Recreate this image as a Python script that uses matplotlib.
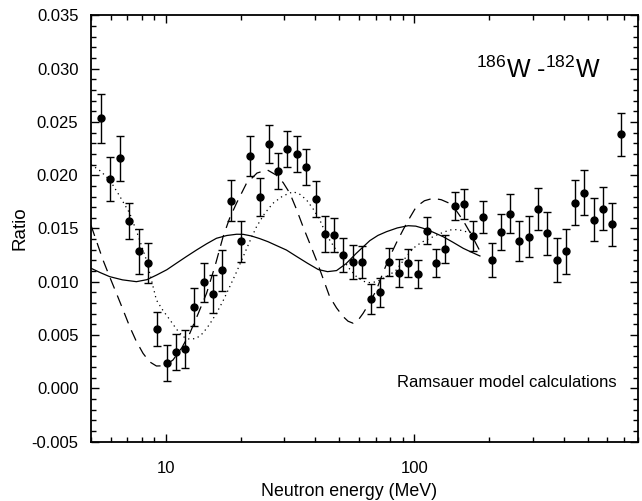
import numpy as np
import matplotlib.pyplot as plt
from matplotlib.ticker import MultipleLocator, LogLocator, NullFormatter

plt.rcParams['font.family'] = ['Liberation Sans', 'DejaVu Sans']
plt.rcParams['mathtext.fontset'] = 'custom'
plt.rcParams['mathtext.rm'] = 'Liberation Sans'

# measured ratio 186W/182W difference
energy = [5.51, 5.98, 6.53, 7.12, 7.78, 8.46, 9.26, 10.09, 11.0, 11.96,
          13.05, 14.22, 15.5, 16.92, 18.39, 20.05, 21.86, 23.9, 26.0, 28.3,
          30.9, 33.7, 36.6, 40.1, 43.6, 47.4, 51.6, 56.5, 61.5, 67.1,
          73.2, 79.3, 86.8, 94.3, 103.2, 112.2, 122.4, 133.5, 145.6, 158.3,
          173.1, 188.9, 205.3, 223.4, 242.9, 264.8, 288.7, 314.8, 343.2, 374.5,
          407.0, 444.7, 483.6, 527.6, 575.4, 627.6, 682.0]
ratio = [0.02534, 0.01964, 0.02159, 0.01567, 0.01286, 0.01174, 0.00557, 0.00235, 0.00344, 0.00372,
         0.00766, 0.00995, 0.00886, 0.01108, 0.01761, 0.01380, 0.02180, 0.01795, 0.02290, 0.02040,
         0.02249, 0.02196, 0.02077, 0.01780, 0.01448, 0.01439, 0.01251, 0.01189, 0.01189, 0.00836,
         0.00900, 0.01186, 0.01080, 0.01179, 0.01070, 0.01480, 0.01174, 0.01305, 0.01714, 0.01733,
         0.01427, 0.01605, 0.01207, 0.01470, 0.01639, 0.01383, 0.01423, 0.01683, 0.01455, 0.01205,
         0.01286, 0.01742, 0.01836, 0.01583, 0.01686, 0.01539, 0.02384]
ratio_err = [0.0023, 0.0021, 0.0021, 0.0017, 0.0021, 0.0019, 0.0016, 0.0017, 0.0017, 0.0018,
             0.0018, 0.0018, 0.0018, 0.0019, 0.0019, 0.0019, 0.0019, 0.0018, 0.0018, 0.0017,
             0.0017, 0.0017, 0.0017, 0.0017, 0.0017, 0.0016, 0.0016, 0.0016, 0.0015, 0.0014,
             0.0014, 0.0013, 0.0013, 0.0013, 0.0013, 0.0013, 0.0013, 0.0013, 0.0013, 0.0014,
             0.0014, 0.0015, 0.0016, 0.0017, 0.0018, 0.0019, 0.0019, 0.0020, 0.0020, 0.0021,
             0.0021, 0.0021, 0.0021, 0.0020, 0.0020, 0.0020, 0.0020]

# Ramsauer model curves
solid_e = [5.0, 5.45, 5.95, 6.7, 7.62, 8.4, 9.2, 10.1, 11.04, 12.1, 13.3, 14.6, 16.0, 17.6, 19.3,
           20.5, 22.1, 23.9, 25.8, 27.9, 30.6, 33.6, 37.2, 41.1, 44.8, 48.7, 53.2, 58.5, 66.3,
           71.5, 77.4, 85.5, 94.6, 101.5, 108.7, 119.0, 130.8, 143.5, 157.6, 170.0, 184.0]
solid_r = [0.01127, 0.01086, 0.01048, 0.01018, 0.01001, 0.01020, 0.01064, 0.01113, 0.01174, 0.01236,
           0.01298, 0.01356, 0.01408, 0.01434, 0.01446, 0.01445, 0.01430, 0.01405, 0.01376, 0.01340,
           0.01298, 0.01238, 0.01174, 0.01115, 0.01095, 0.01105, 0.01170, 0.01267, 0.01386, 0.01435,
           0.0147, 0.01505, 0.01526, 0.01522, 0.01502, 0.01466, 0.01423, 0.01370, 0.01314, 0.01278, 0.01242]

dash_e = [5.0, 5.3, 5.59, 5.95, 6.33, 6.75, 7.16, 7.6, 8.1, 8.6, 9.17, 9.9, 10.7, 11.6, 12.5, 13.5,
          14.6, 15.8, 17.0, 18.1, 19.3, 21.1, 23.3, 25.6, 27.9, 29.7, 31.6, 33.6, 35.7, 38.0, 40.4,
          43.0, 45.7, 48.7, 51.8, 54.2, 56.8, 59.5, 62.3, 66.2, 70.5, 74.9, 79.8, 84.8, 90.2, 96.0,
          102.0, 110.0, 119.0, 128.5, 138.8, 147.5, 157.0, 171.0, 186.0]
dash_r = [0.0153, 0.0136, 0.01204, 0.01045, 0.00892, 0.00730, 0.00579, 0.00445, 0.00329, 0.00250,
          0.00210, 0.00212, 0.00267, 0.00380, 0.00517, 0.00700, 0.00892, 0.01150, 0.0142, 0.0160,
          0.0174, 0.0192, 0.0202, 0.0205, 0.0200, 0.0193, 0.0183, 0.0168, 0.01517, 0.01360, 0.01204,
          0.01030, 0.0086, 0.00755, 0.00673, 0.00630, 0.00611, 0.00640, 0.00704, 0.00805, 0.00923,
          0.01085, 0.01236, 0.01365, 0.01486, 0.01600, 0.01704, 0.01760, 0.01783, 0.01770, 0.01736,
          0.01670, 0.0158, 0.01430, 0.01267]

dot_e = [5.0, 5.45, 5.95, 6.5, 7.16, 7.75, 8.36, 8.75, 9.17, 9.75, 10.4, 11.05, 11.74, 12.5, 13.3,
         14.1, 15.0, 16.0, 17.0, 18.1, 19.3, 20.5, 21.8, 23.2, 25.0, 27.0, 29.6, 32.6, 34.7, 36.9,
         39.3, 41.7, 43.6, 45.7, 48.6, 51.8, 55.0, 58.6, 62.3, 66.3, 70.5, 74.9, 79.6, 84.7, 91.5,
         99.0, 107.0, 115.6, 126.5, 138.8, 150.0, 162.0, 175.0]
dot_r = [0.0210, 0.0204, 0.01955, 0.0181, 0.01643, 0.0143, 0.01204, 0.0102, 0.00829, 0.00730, 0.00642,
         0.00555, 0.00485, 0.0046, 0.0047, 0.00517, 0.00600, 0.00704, 0.00820, 0.00954, 0.01095,
         0.01236, 0.01380, 0.01517, 0.01640, 0.01736, 0.01805, 0.01845, 0.01820, 0.01767, 0.01680,
         0.0158, 0.01480, 0.01392, 0.01295, 0.01204, 0.01120, 0.01048, 0.01005, 0.00992, 0.01000,
         0.0103, 0.01065, 0.0111, 0.01215, 0.01314, 0.01370, 0.01408, 0.01450, 0.01486, 0.01490,
         0.0147, 0.0146]

fig = plt.figure(figsize=(6.42, 5.01), dpi=100)
ax = fig.add_axes([0.1417, 0.1184, 0.8528, 0.8511])

ax.plot(solid_e, solid_r, color='black', lw=0.9)
ax.plot(dash_e, dash_r, color='black', lw=0.9, dashes=(9, 6))
ax.plot(dot_e, dot_r, color='black', lw=0.9, dashes=(1, 3))
ax.errorbar(energy, ratio, yerr=ratio_err, fmt='o', color='black', ms=5,
            elinewidth=1.0, capsize=2.8, capthick=1.0)

ax.set_xscale('log')
ax.set_xlim(5, 800)
ax.set_ylim(-0.005, 0.035)
ax.yaxis.set_major_locator(MultipleLocator(0.005))
ax.yaxis.set_minor_locator(MultipleLocator(0.001))
ax.yaxis.set_major_formatter(plt.FuncFormatter(lambda v, p: f"{v:.3f}"))
ax.xaxis.set_major_locator(LogLocator(base=10))
ax.xaxis.set_minor_locator(LogLocator(base=10, subs=np.arange(2, 10)))
ax.xaxis.set_minor_formatter(NullFormatter())
ax.xaxis.set_major_formatter(plt.FuncFormatter(lambda v, p: f"{v:g}"))

ax.tick_params(which='both', direction='in', top=True, right=True, labelsize=12, width=1.0)
ax.tick_params(which='major', length=6)
ax.tick_params(which='minor', length=3.5)
ax.tick_params(axis='x', pad=14)
ax.tick_params(axis='y', pad=9)
for s in ax.spines.values():
    s.set_linewidth(1.3)

ax.set_ylabel('Ratio', fontsize=13.5, labelpad=2)
fig.text(349 / 642, 1 - 492 / 501, 'Neutron energy (MeV)', fontsize=12.8,
         ha='center', va='center')

ax.text(0.818, 0.872, r'$^{186}$W -$^{182}$W', transform=ax.transAxes,
        fontsize=18, ha='center', va='center')
ax.text(0.759, 0.138, 'Ramsauer model calculations', transform=ax.transAxes,
        fontsize=12, ha='center', va='center')

fig.savefig('out.png', dpi=100)
